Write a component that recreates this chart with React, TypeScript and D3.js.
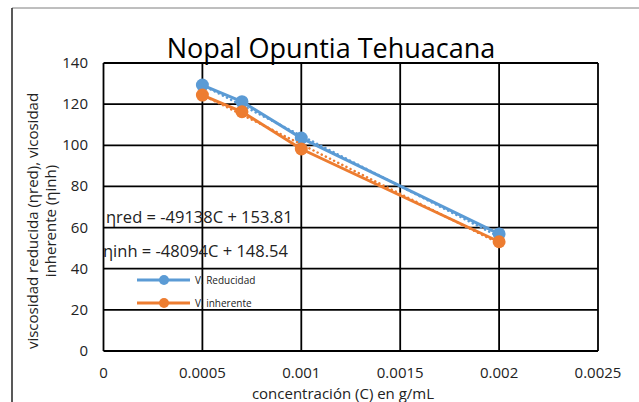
import React from "react";
import * as d3 from "d3";

// valores
const concentracion = [0.0005, 0.0007, 0.001, 0.002];
const vReducida = [129.3, 121.2, 103.5, 56.9];
const vInherente = [124.4, 116.3, 98.2, 53.1];

const xTicks = [0, 0.0005, 0.001, 0.0015, 0.002, 0.0025];
const yTicks = [0, 20, 40, 60, 80, 100, 120, 140];

// lineas de tendencia (pendiente, ordenada)
const trendRed = [-49138, 153.81];
const trendInh = [-48094, 148.54];

const seriesNames = ["V. Reducidad", "V. inherente"];
const colors = ["#5B9BD5", "#ED7D31"];
const font = "'Open Sans', Lato, sans-serif";

const W = 639, H = 402;
const margin = { top: 63, right: 41, bottom: 51, left: 103.5 };

const App = () => {
    const x = d3.scaleLinear().domain([0, 0.0025]).range([margin.left, W - margin.right]);
    const y = d3.scaleLinear().domain([0, 140]).range([H - margin.bottom, margin.top]);

    const line = d3.line<number>()
        .x((d, i) => x(concentracion[i]))
        .y(d => y(d));

    const trend = (c: number[]) => {
        const xs = [concentracion[0], concentracion[concentracion.length - 1]];
        return d3.line<number>().x(d => x(d)).y(d => y(c[0] * d + c[1]))(xs);
    };

    const series = [vReducida, vInherente];
    const trends = [trendRed, trendInh];

    return (
        <svg width={W} height={H} style={{ position: "absolute", left: 0, top: 0, background: "#fff" }}>
            {/* borde del area del grafico */}
            <line x1={12} x2={W} y1={8} y2={8} stroke="#7f7f7f" strokeWidth={1} />
            <line x1={12} x2={12} y1={8} y2={H} stroke="#222" strokeWidth={1.5} />

            <text x={331} y={58} textAnchor="middle" fontFamily={font} fontSize={27} fill="#000">
                Nopal Opuntia Tehuacana
            </text>

            {/* cuadricula */}
            {yTicks.map(t => (
                <line key={"gy" + t} x1={x(0)} x2={x(0.0025)} y1={y(t)} y2={y(t)} stroke="#000" strokeWidth={1.8} />
            ))}
            {xTicks.map(t => (
                <line key={"gx" + t} x1={x(t)} x2={x(t)} y1={y(0)} y2={y(140)} stroke="#000" strokeWidth={1.8} />
            ))}

            {yTicks.map(t => (
                <text key={"ly" + t} x={88} y={y(t) + 5} textAnchor="end" fontFamily={font} fontSize={15} fill="#222">
                    {t}
                </text>
            ))}
            {xTicks.map(t => (
                <text key={"lx" + t} x={x(t)} y={378} textAnchor="middle" fontFamily={font} fontSize={15} fill="#222">
                    {String(t)}
                </text>
            ))}

            <text x={343} y={399} textAnchor="middle" fontFamily={font} fontSize={15} fill="#222">
                concentración (C) en g/mL
            </text>
            <g transform="translate(38,221) rotate(-90)">
                <text x={0} y={0} textAnchor="middle" fontFamily={font} fontSize={15} fill="#222">
                    viscosidad reducida (ηred), vicosidad
                </text>
                <text x={0} y={18} textAnchor="middle" fontFamily={font} fontSize={15} fill="#222">
                    inherente (ηinh)
                </text>
            </g>

            {/* series */}
            {series.map((s, k) => (
                <g key={"s" + k}>
                    <path d={line(s) || ""} fill="none" stroke={colors[k]} strokeWidth={3} />
                    {s.map((v, i) => (
                        <circle key={i} cx={x(concentracion[i])} cy={y(v)} r={6.5} fill={colors[k]} />
                    ))}
                    <path d={trend(trends[k]) || ""} fill="none" stroke={colors[k]} strokeWidth={2.5}
                        strokeDasharray="0.1 4.5" strokeLinecap="round" />
                </g>
            ))}

            <text x={106} y={223} fontFamily={font} fontSize={16.5} fill="#222">ηred = -49138C + 153.81</text>
            <text x={103} y={257} fontFamily={font} fontSize={16.5} fill="#222">ηinh = -48094C + 148.54</text>

            {/* leyenda */}
            {seriesNames.map((n, k) => (
                <g key={"lg" + k} transform={`translate(0,${280 + k * 23})`}>
                    <line x1={137} x2={190} y1={0} y2={0} stroke={colors[k]} strokeWidth={3} />
                    <circle cx={164} cy={0} r={5} fill={colors[k]} />
                    <text x={195} y={4} fontFamily={font} fontSize={10} fill="#222">{n}</text>
                </g>
            ))}
        </svg>
    );
};

export default App;
